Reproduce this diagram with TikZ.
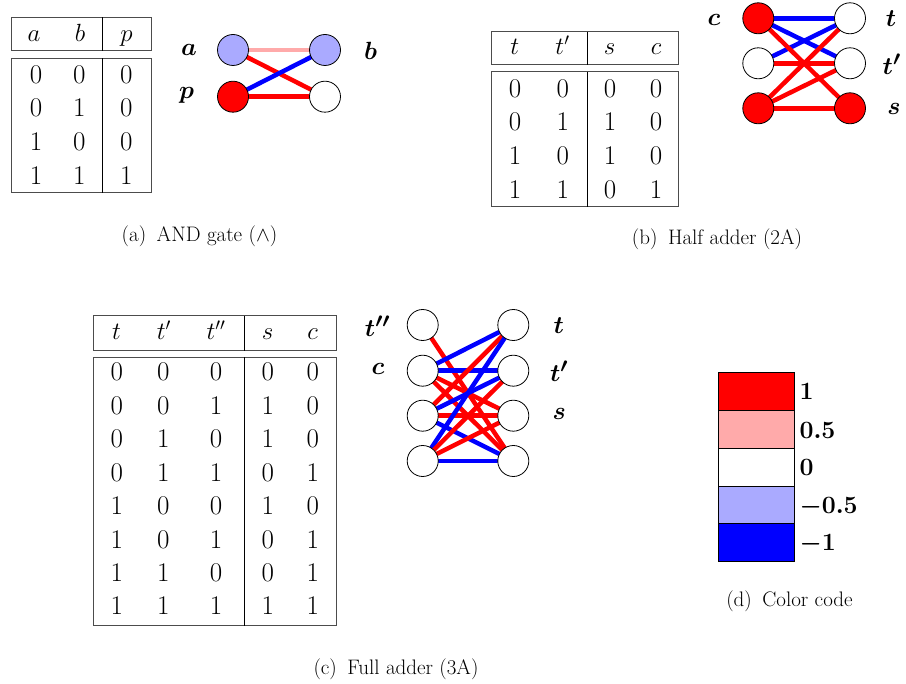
\documentclass[tikz,border=0pt]{standalone}
\usepackage{amsmath}
\definecolor{cred}{RGB}{255,0,0}
\definecolor{cpink}{RGB}{255,170,170}
\definecolor{clblue}{RGB}{170,170,255}
\definecolor{cblue}{RGB}{0,0,255}
\pgfdeclarelayer{bg}
\pgfsetlayers{bg,main}
\begin{document}
\begin{tikzpicture}[x=1pt,y=-1pt,
  vtx/.style={circle,draw=black,line width=0.8pt,minimum size=31pt,inner sep=0pt,fill=white},
  lab/.style={inner sep=0pt,font=\fontsize{30}{36}\selectfont\boldmath},
  cbl/.style={inner sep=0pt,anchor=base west,font=\fontsize{26}{30}\selectfont\boldmath},
  cell/.style={inner sep=0pt,anchor=base,font=\fontsize{27}{32}\selectfont},
  capt/.style={inner sep=0pt,anchor=base,font=\fontsize{21}{25}\selectfont},
  tbox/.style={draw=black!70,line width=1pt},
  tsep/.style={draw=black,line width=1pt},
  epos/.style={draw=cred,line width=4.5pt},
  ehalf/.style={draw=cpink,line width=4.5pt},
  eneg/.style={draw=cblue,line width=4.5pt},
  cbox/.style={draw=black,line width=0.8pt}
]
\useasboundingbox (0,0) rectangle (906,684);

% ---------------- (a) AND gate table
\draw[tbox] (11.7,17.3) rectangle (151.7,51);
\draw[tbox] (11.7,58.3) rectangle (151.7,192.7);
\draw[tsep] (102.7,17.3) -- (102.7,51);
\draw[tsep] (102.7,58.3) -- (102.7,192.7);
\node[cell] (Aha) at (34,41.7) {$a$};
\node[cell] (Ahb) at (80,41.7) {$b$};
\node[cell] (Ahp) at (126.5,41.7) {$p$};
\foreach \y/\p/\q/\r [count=\i] in {83.3/0/0/0,117/0/1/0,150.7/1/0/0,184.4/1/1/1}{
  \node[cell] (A\i1) at (36,\y) {\p};
  \node[cell] (A\i2) at (79.3,\y) {\q};
  \node[cell] (A\i3) at (126.3,\y) {\r};
}
% (a) graph
\node[vtx,fill=clblue] (Aa) at (233,50) {};
\node[vtx,fill=clblue] (Ab) at (325,50) {};
\node[vtx,fill=cred] (Ap) at (233,96.7) {};
\node[vtx] (Ao) at (325,96.7) {};
\node[lab] (Ala) at (189,50) {$a$};
\node[lab] (Alb) at (370.5,50.8) {$b$};
\node[lab] (Alp) at (186.7,95.8) {$p$};
\begin{pgfonlayer}{bg}
\draw[ehalf] (Aa.center) -- (Ab.center);
\draw[epos] (Aa.center) -- (Ao.center);
\draw[eneg] (Ap.center) -- (Ab.center);
\draw[epos] (Ap.center) -- (Ao.center);
\end{pgfonlayer}
\node[capt] (capa) at (199.5,241.7) {(a)\enspace AND gate ($\wedge$)};

% ---------------- (b) Half adder table
\draw[tbox] (491.7,31.7) rectangle (678.3,65);
\draw[tbox] (491.7,71.7) rectangle (678.3,206.7);
\draw[tsep] (587.3,31.7) -- (587.3,65);
\draw[tsep] (587.3,71.7) -- (587.3,206.7);
\node[cell] (Bh1) at (514.7,55) {$t$};
\node[cell] (Bh2) at (562.5,55) {$t'$};
\node[cell] (Bh3) at (609.5,55) {$s$};
\node[cell] (Bh4) at (656,55) {$c$};
\foreach \y/\p/\q/\r/\s [count=\i] in {97.3/0/0/0/0,131/0/1/1/0,164.7/1/0/1/0,198.3/1/1/0/1}{
  \node[cell] (B\i1) at (515,\y) {\p};
  \node[cell] (B\i2) at (562.7,\y) {\q};
  \node[cell] (B\i3) at (610,\y) {\r};
  \node[cell] (B\i4) at (656,\y) {\s};
}
% (b) graph
\node[vtx,fill=cred] (Hc) at (758.3,18.3) {};
\node[vtx] (Ht) at (850,18.3) {};
\node[vtx] (Hm) at (758.3,63.3) {};
\node[vtx] (Htp) at (850,63.3) {};
\node[vtx,fill=cred] (Hn) at (758.3,108.3) {};
\node[vtx,fill=cred] (Hs) at (850,108.3) {};
\node[lab] (Hlc) at (714,19.7) {$c$};
\node[lab] (Hlt) at (891,18.3) {$t$};
\node[lab] (Hltp) at (891.7,64) {$t'$};
\node[lab] (Hls) at (894,108.8) {$s$};
\begin{pgfonlayer}{bg}
\draw[eneg] (Hc.center) -- (Ht.center);
\draw[eneg] (Hc.center) -- (Htp.center);
\draw[eneg] (Hm.center) -- (Ht.center);
\draw[epos] (Hc.center) -- (Hs.center);
\draw[epos] (Hm.center) -- (Htp.center);
\draw[epos] (Hn.center) -- (Ht.center);
\draw[epos] (Hn.center) -- (Htp.center);
\draw[epos] (Hn.center) -- (Hs.center);
\end{pgfonlayer}
\node[capt] (capb) at (717,245) {(b)\enspace Half adder (2A)};

% ---------------- (c) Full adder table
\draw[tbox] (93.3,315.7) rectangle (336,350.7);
\draw[tbox] (93.3,357.3) rectangle (336,625.7);
\draw[tsep] (244.3,315.7) -- (244.3,350.7);
\draw[tsep] (244.3,357.3) -- (244.3,625.7);
\node[cell] (Ch1) at (116.5,340) {$t$};
\node[cell] (Ch2) at (163.8,340) {$t'$};
\node[cell] (Ch3) at (216,340) {$t''$};
\node[cell] (Ch4) at (267.7,340) {$s$};
\node[cell] (Ch5) at (312.7,340) {$c$};
\foreach \y/\p/\q/\r/\s/\u [count=\i] in {381/0/0/0/0/0,414.4/0/0/1/1/0,447.9/0/1/0/1/0,481.3/0/1/1/0/1,514.7/1/0/0/1/0,548.1/1/0/1/0/1,581.6/1/1/0/0/1,615/1/1/1/1/1}{
  \node[cell] (C\i1) at (116.7,\y) {\p};
  \node[cell] (C\i2) at (163.3,\y) {\q};
  \node[cell] (C\i3) at (216,\y) {\r};
  \node[cell] (C\i4) at (267.7,\y) {\s};
  \node[cell] (C\i5) at (312.7,\y) {\u};
}
% (c) graph
\foreach \y [count=\i] in {325,370.7,415.7,461}{
  \node[vtx] (FL\i) at (422.7,\y) {};
  \node[vtx] (FR\i) at (513.3,\y) {};
}
\node[lab] (Fltpp) at (377.5,326.7) {$t''$};
\node[lab] (Flc) at (378,369) {$c$};
\node[lab] (Flt) at (558.8,326) {$t$};
\node[lab] (Fltp) at (559,371) {$t'$};
\node[lab] (Fls) at (559.3,414) {$s$};
\begin{pgfonlayer}{bg}
\draw[epos] (FL1.center) -- (FR4.center);
\draw[eneg] (FL2.center) -- (FR1.center);
\draw[eneg] (FL2.center) -- (FR2.center);
\draw[epos] (FL2.center) -- (FR3.center);
\draw[epos] (FL2.center) -- (FR4.center);
\draw[epos] (FL3.center) -- (FR1.center);
\draw[eneg] (FL3.center) -- (FR2.center);
\draw[epos] (FL3.center) -- (FR3.center);
\draw[eneg] (FL3.center) -- (FR4.center);
\draw[eneg] (FL4.center) -- (FR1.center);
\draw[epos] (FL4.center) -- (FR2.center);
\draw[epos] (FL4.center) -- (FR3.center);
\draw[eneg] (FL4.center) -- (FR4.center);
\end{pgfonlayer}
\node[capt] (capc) at (396,674.3) {(c)\enspace Full adder (3A)};

% ---------------- (d) Color code
\draw[cbox,fill=cred] (718.3,372.7) rectangle (794,410.7);
\draw[cbox,fill=cpink] (718.3,410.7) rectangle (794,448.3);
\draw[cbox,fill=white] (718.3,448.3) rectangle (794,486);
\draw[cbox,fill=clblue] (718.3,486) rectangle (794,523.7);
\draw[cbox,fill=cblue] (718.3,523.7) rectangle (794,561);
\node[cbl] (D1) at (799.3,400) {$1$};
\node[cbl] (D2) at (799.3,438.3) {$0.5$};
\node[cbl] (D3) at (799.3,476) {$0$};
\node[cbl] (D4) at (799.3,513.3) {$-0.5$};
\node[cbl] (D5) at (799.3,550.7) {$-1$};
\node[capt] (capd) at (789.5,606.7) {(d)\enspace Color code};
\end{tikzpicture}
\end{document}
